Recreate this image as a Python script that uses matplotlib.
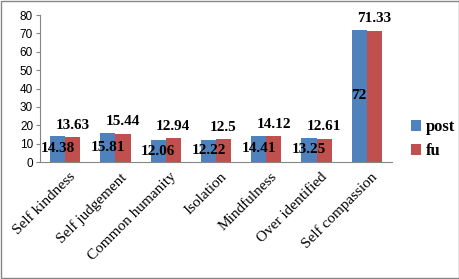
import numpy as np
import matplotlib
matplotlib.use('Agg')
import matplotlib.pyplot as plt
import matplotlib.transforms as mtransforms
from matplotlib.patches import Rectangle

categories = ['Self kindness', 'Self judgement', 'Common humanity', 'Isolation',
              'Mindfulness', 'Over identified', 'Self compassion']
post = [14.38, 15.81, 12.06, 12.22, 14.41, 13.25, 72]
fu = [13.63, 15.44, 12.94, 12.5, 14.12, 12.61, 71.33]

blue = '#4F81BD'
red = '#C0504D'
serif = 'Liberation Serif'

fig = plt.figure(figsize=(4.6, 2.79), dpi=100)
ax = fig.add_axes([0.087, 0.419, 0.765, 0.527])

x = np.arange(len(categories))
w = 0.3
b1 = ax.bar(x - w/2, post, width=w, color=blue, label='post')
b2 = ax.bar(x + w/2, fu, width=w, color=red, label='fu')

# post labels sit in the middle of the bar, fu labels above the bar
for rect, v in zip(b1, post):
    ax.text(rect.get_x() + rect.get_width()/2, v/2, f'{v:g}',
            ha='center', va='center', fontsize=11, fontweight='bold', family=serif)
for rect, v in zip(b2, fu):
    ax.text(rect.get_x() + rect.get_width()/2, v + 3, f'{v:g}',
            ha='center', va='bottom', fontsize=11, fontweight='bold', family=serif)

ax.set_xlim(-0.5, len(categories) - 0.5)
ax.set_ylim(0, 80)
ax.set_yticks(range(0, 81, 10))
ax.tick_params(axis='y', labelsize=8.5, length=3, color='#868686', pad=2)
for lab in ax.get_yticklabels():
    lab.set_family('Liberation Sans')
ax.tick_params(axis='x', length=0, pad=6)
ax.set_xticks(x)
ax.set_xticklabels(categories, rotation=45, ha='right', rotation_mode='anchor',
                   fontsize=11, family=serif)
# nudge the slanted labels a little to the right, like the original
shift = mtransforms.ScaledTranslation(4/100, 0, fig.dpi_scale_trans)
for lab in ax.get_xticklabels():
    lab.set_transform(lab.get_transform() + shift)

for s in ['top', 'right']:
    ax.spines[s].set_visible(False)
for s in ['left', 'bottom']:
    ax.spines[s].set_color('#868686')

ax.legend(loc='center left', bbox_to_anchor=(1.03, 0.155), frameon=False,
          prop={'family': serif, 'weight': 'bold', 'size': 12},
          handlelength=0.6, handleheight=0.6, handletextpad=0.3, labelspacing=0.5,
          borderpad=0)

# grey frame around the whole chart
fig.patches.append(Rectangle((0.003, 0.005), 0.994, 0.99, transform=fig.transFigure,
                             fill=False, edgecolor='#868686', linewidth=1))

fig.savefig('out.png', dpi=100)
